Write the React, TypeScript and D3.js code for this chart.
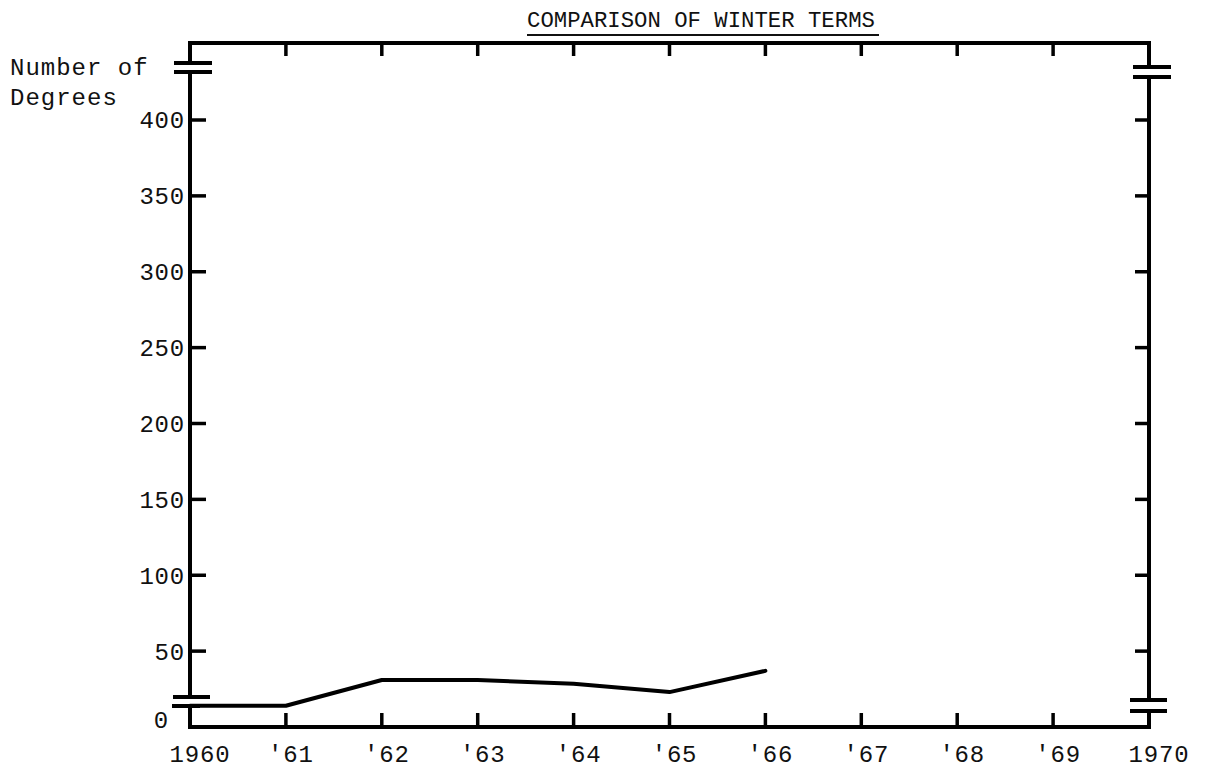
import React from 'react';
import * as d3 from 'd3';

const years = [1960, 1961, 1962, 1963, 1964, 1965, 1966];
const degrees = [14, 14, 31, 31, 28.5, 23, 37];

const xTickYears = [1960, 1961, 1962, 1963, 1964, 1965, 1966, 1967, 1968, 1969, 1970];
const xTickLabels = ['1960', "'61", "'62", "'63", "'64", "'65", "'66", "'67", "'68", "'69", '1970'];
const yTickValues = [0, 50, 100, 150, 200, 250, 300, 350, 400];
const yTickLabels = ['0', '50', '100', '150', '200', '250', '300', '350', '400'];

const chartTitle = 'COMPARISON OF WINTER TERMS';
const yAxisTitle = ['Number of', 'Degrees'];

const FONT = "'Liberation Mono', 'Courier New', monospace";

export default function App() {
  const W = 1206;
  const H = 771;
  const left = 190;
  const right = 1149;
  const top = 43;
  const x = d3.scaleLinear().domain([1960, 1970]).range([left, right]);
  const y = d3.scaleLinear().domain([0, 400]).range([727, 120]);
  const bottom = y(0);

  const line = d3
    .line<number>()
    .x((_, i) => x(years[i]))
    .y((d) => y(d));

  const sw = 4;
  const innerTicks = xTickYears.slice(1, -1);

  return (
    <svg
      width={W}
      height={H}
      style={{ position: 'absolute', left: 0, top: 0, background: '#fff' }}
      fontFamily={FONT}
    >
      <rect x={0} y={0} width={W} height={H} fill="#fff" />
      {/* title */}
      <text x={527} y={27} fontSize={22.3} fill="#111" textAnchor="start">
        {chartTitle}
      </text>
      <line x1={527} x2={879} y1={35} y2={35} stroke="#111" strokeWidth={2} />

      {/* y axis title */}
      {yAxisTitle.map((t, i) => (
        <text key={t} x={10} y={75 + i * 30} fontSize={24} letterSpacing={1} fill="#111">
          {t}
        </text>
      ))}

      {/* frame: top border */}
      <line x1={left - 2} x2={right + 2} y1={top} y2={top} stroke="#000" strokeWidth={sw} />
      {/* bottom axis */}
      <line x1={left - 2} x2={right + 2} y1={bottom} y2={bottom} stroke="#000" strokeWidth={sw} />
      {/* left axis with breaks */}
      <line x1={left} x2={left} y1={top - 2} y2={63} stroke="#000" strokeWidth={sw} />
      <line x1={left} x2={left} y1={72} y2={697} stroke="#000" strokeWidth={sw} />
      <line x1={left} x2={left} y1={706} y2={bottom + 2} stroke="#000" strokeWidth={sw} />
      {/* right axis with breaks */}
      <line x1={right} x2={right} y1={top - 2} y2={67} stroke="#000" strokeWidth={sw} />
      <line x1={right} x2={right} y1={77} y2={700} stroke="#000" strokeWidth={sw} />
      <line x1={right} x2={right} y1={711} y2={bottom + 2} stroke="#000" strokeWidth={sw} />

      {/* break marks */}
      <line x1={174} x2={212} y1={63} y2={63} stroke="#000" strokeWidth={sw} />
      <line x1={174} x2={212} y1={72} y2={72} stroke="#000" strokeWidth={sw} />
      <line x1={173} x2={210} y1={697} y2={697} stroke="#000" strokeWidth={sw} />
      <line x1={172} x2={left + 10} y1={706} y2={706} stroke="#000" strokeWidth={sw} />
      <line x1={1133} x2={1171} y1={67} y2={67} stroke="#000" strokeWidth={sw} />
      <line x1={1133} x2={1171} y1={77} y2={77} stroke="#000" strokeWidth={sw} />
      <line x1={1130} x2={1167} y1={700} y2={700} stroke="#000" strokeWidth={sw} />
      <line x1={1130} x2={1167} y1={711} y2={711} stroke="#000" strokeWidth={sw} />

      {/* x ticks top and bottom */}
      {innerTicks.map((yr) => (
        <g key={yr}>
          <line x1={x(yr)} x2={x(yr)} y1={top} y2={top + 13} stroke="#000" strokeWidth={3.5} />
          <line x1={x(yr)} x2={x(yr)} y1={bottom} y2={bottom - 14} stroke="#000" strokeWidth={3.5} />
        </g>
      ))}

      {/* y ticks left and right */}
      {yTickValues.slice(1).map((v) => (
        <g key={v}>
          <line x1={left} x2={left + 16} y1={y(v)} y2={y(v)} stroke="#000" strokeWidth={3.5} />
          <line x1={right - 14} x2={right} y1={y(v)} y2={y(v)} stroke="#000" strokeWidth={3.5} />
        </g>
      ))}

      {/* y tick labels */}
      {yTickValues.map((v, i) => (
        <text
          key={v}
          x={v === 0 ? 169 : 185}
          y={y(v) - (v === 0 ? 7 : 0)}
          dy="0.35em"
          fontSize={24}
          letterSpacing={0.8}
          textAnchor="end"
          fill="#111"
        >
          {yTickLabels[i]}
        </text>
      ))}

      {/* x tick labels */}
      {xTickYears.map((yr, i) => (
        <text
          key={yr}
          x={x(yr) + (xTickLabels[i].length === 4 ? 10 : 5)}
          y={762}
          fontSize={24}
          letterSpacing={0.8}
          textAnchor="middle"
          fill="#111"
        >
          {xTickLabels[i]}
        </text>
      ))}

      {/* data line */}
      <path
        d={line(degrees) || ''}
        fill="none"
        stroke="#000"
        strokeWidth={4}
        strokeLinejoin="round"
        strokeLinecap="round"
      />
    </svg>
  );
}
